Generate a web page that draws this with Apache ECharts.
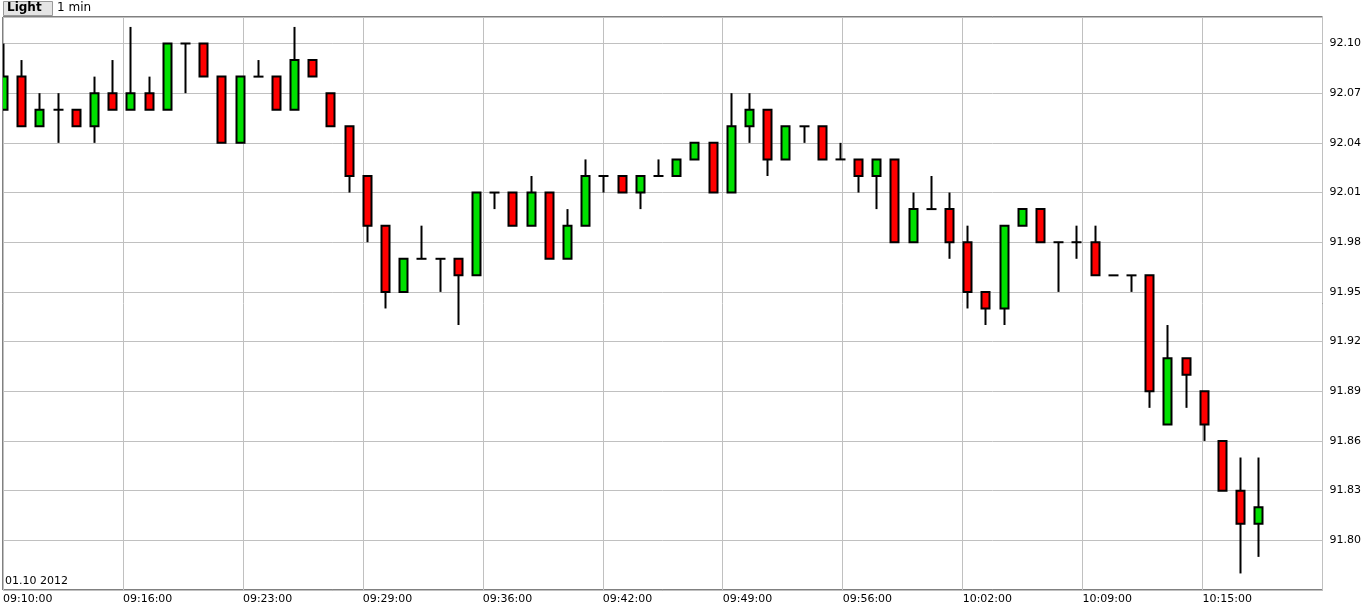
<!DOCTYPE html>
<html><head><meta charset="utf-8">
<script src="https://cdn.jsdelivr.net/npm/echarts@6/dist/echarts.min.js"></script>
<style>html,body{margin:0;padding:0;background:#fff}#c{width:1364px;height:607px}</style>
</head><body><div id="c"></div>
<script>
// minutes after 09:10
const minutes = Array.from({length:70},(_, i)=>i);
const opens  = [92.06,92.08,92.05,92.06,92.06,92.05,92.07,92.06,92.07,92.06,92.10,92.10,92.08,92.04,92.08,92.08,92.06,92.09,92.07,92.05,
  92.02,91.99,91.95,91.97,91.97,91.97,91.96,92.01,92.01,91.99,92.01,91.97,91.99,92.02,92.02,92.01,92.02,92.02,92.03,92.04,
  92.01,92.05,92.06,92.03,92.05,92.05,92.03,92.03,92.02,92.03,91.98,92.00,92.00,91.98,91.95,91.94,91.99,92.00,91.98,91.98,
  91.98,91.96,91.96,91.96,91.87,91.91,91.89,91.86,91.83,91.81];
const closes = [92.08,92.05,92.06,92.06,92.05,92.07,92.06,92.07,92.06,92.10,92.10,92.08,92.04,92.08,92.08,92.06,92.09,92.08,92.05,92.02,
  91.99,91.95,91.97,91.97,91.97,91.96,92.01,92.01,91.99,92.01,91.97,91.99,92.02,92.02,92.01,92.02,92.02,92.03,92.04,92.01,
  92.05,92.06,92.03,92.05,92.05,92.03,92.03,92.02,92.03,91.98,92.00,92.00,91.98,91.95,91.94,91.99,92.00,91.98,91.98,91.98,
  91.96,91.96,91.96,91.89,91.91,91.90,91.87,91.83,91.81,91.82];
const highs  = [92.10,92.09,92.07,92.07,92.06,92.08,92.09,92.11,92.08,92.10,92.10,92.10,92.08,92.08,92.09,92.08,92.11,92.09,92.07,92.05,
  92.02,91.99,91.97,91.99,91.97,91.97,92.01,92.01,92.01,92.02,92.01,92.00,92.03,92.02,92.02,92.02,92.03,92.03,92.04,92.04,
  92.07,92.07,92.06,92.05,92.05,92.05,92.04,92.03,92.03,92.03,92.01,92.02,92.01,91.99,91.95,91.99,92.00,92.00,91.98,91.99,
  91.99,91.96,91.96,91.96,91.93,91.91,91.89,91.86,91.85,91.85];
const lows   = [92.06,92.05,92.05,92.04,92.05,92.04,92.06,92.06,92.06,92.06,92.07,92.08,92.04,92.04,92.08,92.06,92.06,92.08,92.05,92.01,
  91.98,91.94,91.95,91.97,91.95,91.93,91.96,92.00,91.99,91.99,91.97,91.97,91.99,92.01,92.01,92.00,92.02,92.02,92.03,92.01,
  92.01,92.04,92.02,92.03,92.04,92.03,92.03,92.01,92.00,91.98,91.98,92.00,91.97,91.94,91.93,91.93,91.99,91.98,91.95,91.97,
  91.96,91.96,91.95,91.88,91.87,91.88,91.86,91.83,91.78,91.79];
const xTickLabels = ['09:10:00','09:16:00','09:23:00','09:29:00','09:36:00','09:42:00','09:49:00','09:56:00','10:02:00','10:09:00','10:15:00','10:22:00'];
const yTickLabels = ['91.80','91.83','91.86','91.89','91.92','91.95','91.98','92.01','92.04','92.07','92.10'];
const lastPrice = 91.82;

const XINT = 120/18.2;
const data = minutes.map((m,i)=>[m, opens[i], closes[i], highs[i], lows[i]]);
const chart = echarts.init(document.getElementById('c'));
chart.setOption({
  animation:false,
  textStyle:{fontFamily:'DejaVu Sans'},
  grid:{left:3,right:41,top:17,bottom:17,show:true,borderColor:'#000',borderWidth:1},
  xAxis:{type:'value',min:0,max:1320/18.2,interval:XINT,
    axisLine:{show:false},axisTick:{show:false},
    splitLine:{lineStyle:{color:'#c0c0c0',width:1}},
    axisLabel:{showMaxLabel:false,align:'left',margin:4,fontSize:11,color:'#000',
      formatter:v=>xTickLabels[Math.round(v/XINT)]||''}},
  yAxis:{type:'value',position:'right',min:91.77,max:92.116,interval:0.03,
    axisLine:{show:false},axisTick:{show:false},
    splitLine:{lineStyle:{color:'#c0c0c0',width:1}},
    axisLabel:{showMinLabel:false,showMaxLabel:false,margin:7,fontSize:11,color:'#000',
      formatter:v=>{const s=v.toFixed(2);return yTickLabels.includes(s)?s:'';}}},
  graphic:[
    {type:'rect',left:3,top:1,shape:{width:49,height:14},style:{fill:'#e4e4e4',stroke:'#999',lineWidth:1}},
    {type:'text',left:7,top:2,style:{text:'Light',font:'bold 12px DejaVu Sans',fill:'#000'}},
    {type:'text',left:57,top:2,style:{text:'1 min',font:'12px DejaVu Sans',fill:'#000'}},
    {type:'text',left:5,top:576,style:{text:'01.10 2012',font:'11px DejaVu Sans',fill:'#000'}}
  ],
  series:[{
    type:'custom',
    data:data,
    encode:{x:0,y:[1,2,3,4]},
    clip:true,
    renderItem:(params,api)=>{
      const x=api.value(0),o=api.value(1),c=api.value(2),h=api.value(3),l=api.value(4);
      const pH=api.coord([x,h]),pL=api.coord([x,l]),pO=api.coord([x,o]),pC=api.coord([x,c]);
      const cx=Math.round(pH[0])+0.5;
      const children=[{type:'line',shape:{x1:cx,y1:pH[1],x2:cx,y2:pL[1]},style:{stroke:'#000',lineWidth:2}}];
      if(o===c){
        children.push({type:'line',shape:{x1:cx-5,y1:pO[1],x2:cx+5,y2:pO[1]},style:{stroke:'#000',lineWidth:2}});
      } else {
        const top=Math.min(pO[1],pC[1]),bot=Math.max(pO[1],pC[1]);
        children.push({type:'rect',shape:{x:cx-4,y:top,width:8,height:bot-top},
          style:{fill:c>o?'#00e000':'#ff0000',stroke:'#000',lineWidth:2}});
      }
      return {type:'group',children};
    },
    markLine:{silent:true,symbol:'none',lineStyle:{opacity:0},
      label:{position:'end',distance:1,formatter:()=>lastPrice.toFixed(2),color:'#fff',backgroundColor:'#888',
        padding:[2,2,1,2],fontSize:11,borderColor:'#bbb',borderWidth:1},
      data:[{yAxis:lastPrice}]}
  }]
});
</script></body></html>
